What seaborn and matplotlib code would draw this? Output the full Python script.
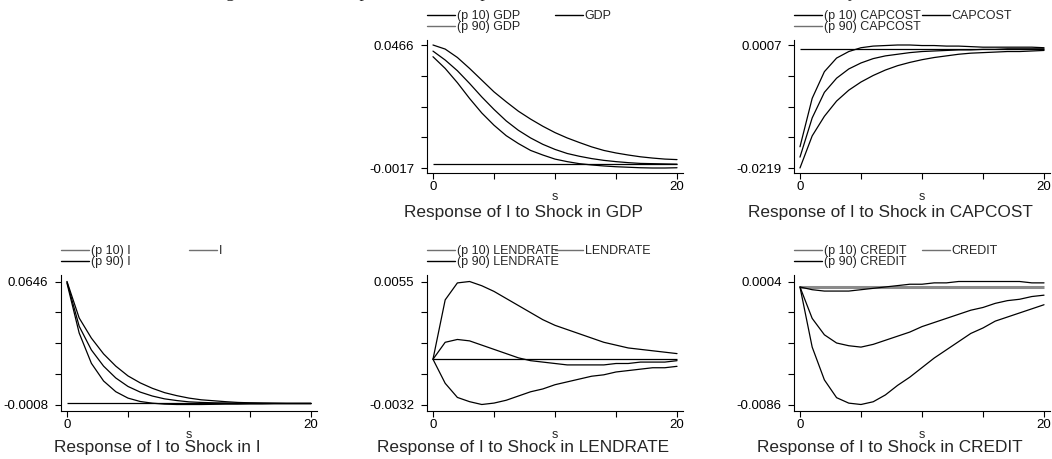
import numpy as np
import pandas as pd
import matplotlib
matplotlib.use("Agg")
import matplotlib.pyplot as plt
import seaborn as sns
from matplotlib.lines import Line2D

# ---------------- data ----------------
steps = list(range(21))

gdp_p10 = [0.0420, 0.0374, 0.0318, 0.0256, 0.0199, 0.0151, 0.0110, 0.0079, 0.0052, 0.0034, 0.0018,
           0.0008, 0.0000, -0.0005, -0.0009, -0.0012, -0.0014, -0.0016, -0.0017, -0.0017, -0.0016]
gdp_med = [0.0442, 0.0407, 0.0365, 0.0315, 0.0262, 0.0213, 0.0168, 0.0131, 0.0101, 0.0076, 0.0056,
           0.0040, 0.0029, 0.0020, 0.0013, 0.0008, 0.0004, 0.0001, 0.0000, -0.0001, -0.0002]
gdp_p90 = [0.0466, 0.0450, 0.0417, 0.0374, 0.0328, 0.0282, 0.0243, 0.0206, 0.0175, 0.0147, 0.0122,
           0.0101, 0.0083, 0.0066, 0.0052, 0.0042, 0.0034, 0.0027, 0.0022, 0.0018, 0.0016]

capcost_p10 = [-0.0219, -0.0160, -0.0124, -0.0096, -0.0076, -0.0061, -0.0049, -0.0039, -0.0031, -0.0025, -0.0020,
               -0.0016, -0.0013, -0.0010, -0.0008, -0.0007, -0.0006, -0.0005, -0.0005, -0.0004, -0.0003]
capcost_med = [-0.0199, -0.0127, -0.0080, -0.0054, -0.0037, -0.0026, -0.0018, -0.0013, -0.0010, -0.0007, -0.0005,
               -0.0004, -0.0003, -0.0002, -0.0002, -0.0001, -0.0001, 0.0000, 0.0000, 0.0000, 0.0000]
capcost_p90 = [-0.0180, -0.0091, -0.0042, -0.0017, -0.0005, 0.0002, 0.0005, 0.0006, 0.0007, 0.0007, 0.0006,
               0.0006, 0.0005, 0.0005, 0.0004, 0.0003, 0.0003, 0.0003, 0.0003, 0.0003, 0.0002]

i_p10 = [0.0637, 0.0372, 0.0211, 0.0117, 0.0060, 0.0026, 0.0008, -0.0001, -0.0006, -0.0008, -0.0008,
         -0.0008, -0.0007, -0.0006, -0.0006, -0.0005, -0.0005, -0.0004, -0.0004, -0.0004, -0.0004]
i_med = [0.0644, 0.0408, 0.0282, 0.0196, 0.0133, 0.0088, 0.0058, 0.0037, 0.0022, 0.0013, 0.0006,
         0.0003, 0.0001, 0.0000, -0.0001, -0.0001, -0.0002, -0.0002, -0.0002, -0.0002, -0.0002]
i_p90 = [0.0646, 0.0452, 0.0345, 0.0261, 0.0196, 0.0144, 0.0107, 0.0078, 0.0055, 0.0039, 0.0026,
         0.0017, 0.0012, 0.0007, 0.0003, 0.0001, 0.0000, -0.0001, -0.0002, -0.0002, -0.0002]

lendrate_p10 = [0.0000, -0.0017, -0.0027, -0.0030, -0.0032, -0.0031, -0.0029, -0.0026, -0.0023, -0.0021, -0.0018,
                -0.0016, -0.0014, -0.0012, -0.0011, -0.0009, -0.0008, -0.0007, -0.0006, -0.0006, -0.0005]
lendrate_med = [0.0000, 0.0012, 0.0014, 0.0013, 0.0010, 0.0007, 0.0004, 0.0001, -0.0001, -0.0002, -0.0003,
                -0.0004, -0.0004, -0.0004, -0.0004, -0.0003, -0.0003, -0.0002, -0.0002, -0.0002, -0.0001]
lendrate_p90 = [0.0000, 0.0042, 0.0054, 0.0055, 0.0052, 0.0048, 0.0043, 0.0038, 0.0033, 0.0028, 0.0024,
                0.0021, 0.0018, 0.0015, 0.0012, 0.0010, 0.0008, 0.0007, 0.0006, 0.0005, 0.0004]

credit_p10 = [0.0000, -0.0044, -0.0068, -0.0081, -0.0085, -0.0086, -0.0084, -0.0079, -0.0072, -0.0066, -0.0059,
              -0.0052, -0.0046, -0.0040, -0.0034, -0.0030, -0.0025, -0.0022, -0.0019, -0.0016, -0.0013]
credit_med = [0.0000, -0.0023, -0.0035, -0.0041, -0.0043, -0.0044, -0.0042, -0.0039, -0.0036, -0.0033, -0.0029,
              -0.0026, -0.0023, -0.0020, -0.0017, -0.0015, -0.0012, -0.0010, -0.0009, -0.0007, -0.0006]
credit_p90 = [0.0000, -0.0002, -0.0003, -0.0003, -0.0003, -0.0002, -0.0001, 0.0000, 0.0001, 0.0002, 0.0002,
              0.0003, 0.0003, 0.0004, 0.0004, 0.0004, 0.0004, 0.0004, 0.0004, 0.0003, 0.0003]

# y-axis label values (min, max) per panel
gdp_ylabels = [-0.0017, 0.0466]
capcost_ylabels = [-0.0219, 0.0007]
i_ylabels = [-0.0008, 0.0646]
lendrate_ylabels = [-0.0032, 0.0055]
credit_ylabels = [-0.0086, 0.0004]
x_ticks = [0, 5, 10, 15, 20]
x_ticklabels = ["0", "", "", "", "20"]

shock_names = ["GDP", "CAPCOST", "I", "LENDRATE", "CREDIT"]
title_text = "Figure 3: Median impulse and the response functions of investment to shocks in economy"

# ---------------- style ----------------
sns.set_theme(style="ticks")
plt.rcParams["font.family"] = ["Liberation Sans", "DejaVu Sans"]

W, H = 1052, 459
fig = plt.figure(figsize=(W / 100, H / 100), dpi=100)
fig.patch.set_facecolor("white")


def px_axes(left, top, right, bottom):
    return fig.add_axes([left / W, 1 - bottom / H, (right - left) / W, (bottom - top) / H])


panels = [
    ("GDP", gdp_p10, gdp_med, gdp_p90, gdp_ylabels, (427, 40, 683, 173), "top"),
    ("CAPCOST", capcost_p10, capcost_med, capcost_p90, capcost_ylabels, (794, 40, 1050, 173), "top"),
    ("I", i_p10, i_med, i_p90, i_ylabels, (61, 275, 317, 411), "bottom"),
    ("LENDRATE", lendrate_p10, lendrate_med, lendrate_p90, lendrate_ylabels, (427, 275, 683, 411), "bottom"),
    ("CREDIT", credit_p10, credit_med, credit_p90, credit_ylabels, (794, 275, 1050, 411), "bottom"),
]

GRAY = "#707070"

for name, p10, med, p90, ylab, box, row in panels:
    ax = px_axes(*box)
    ax.set_facecolor("white")
    df = pd.DataFrame({
        "s": steps * 3,
        "value": p10 + med + p90,
        "series": [f"(p 10) {name}"] * 21 + [name] * 21 + [f"(p 90) {name}"] * 21,
    })
    # zero reference line
    if name == "CREDIT":
        ax.hlines(0, steps[0], steps[-1], color="#8a8a8a", lw=2.2, zorder=1)
    else:
        ax.hlines(0, steps[0], steps[-1], color="black", lw=0.9, zorder=1)
    sns.lineplot(data=df, x="s", y="value", units="series", estimator=None,
                 color="black", lw=0.9, ax=ax, legend=False, zorder=2)

    # axis limits with Stata-like margins
    left, top, right, bottom = box
    tick_span_px = (bottom - top) - (10 if row == "top" else 13)
    ymin, ymax = ylab
    m = (5 if row == "top" else 6.5) / tick_span_px * (ymax - ymin)
    ax.set_ylim(ymin - m, ymax + m)
    ax.set_xlim(-0.49, 20.49)

    yt = np.linspace(ymin, ymax, 5)
    ax.set_yticks(yt)
    ax.set_yticklabels([f"{ymin:.4f}", "", "", "", f"{ymax:.4f}"])
    ax.set_xticks(x_ticks)
    ax.set_xticklabels(x_ticklabels)
    ax.tick_params(axis="y", length=4.5, width=0.8, pad=4.5, labelsize=9.5, colors="black")
    ax.tick_params(axis="x", length=4.5, width=0.8, pad=1, labelsize=9.5, colors="black")
    for sp in ["top", "right"]:
        ax.spines[sp].set_visible(False)
    for sp in ["left", "bottom"]:
        ax.spines[sp].set_linewidth(0.8)
        ax.spines[sp].set_color("black")
    ax.set_xlabel("s", fontsize=9, labelpad=-1.5)
    ax.set_ylabel("")
    off = 39.5 if row == "top" else 36.5
    ax.text(0.375, -off / (bottom - top), f"Response of I to Shock in {name}",
            transform=ax.transAxes, ha="center", va="center", fontsize=12.4)

    # legends
    if row == "top":
        c10, cm, c90 = "black", "black", GRAY
    else:
        c10, cm, c90 = GRAY, GRAY, "black"
    h1 = [Line2D([], [], color=c10, lw=1.0), Line2D([], [], color=c90, lw=1.0)]
    l1 = [f"(p 10) {name}", f"(p 90) {name}"]
    h2 = [Line2D([], [], color=cm, lw=1.0)]
    l2 = [name]
    leg_top = top - 30
    kw = dict(loc="upper left", frameon=False, fontsize=9, handlelength=2.25,
              handletextpad=0.12, labelspacing=-0.05, borderpad=0, borderaxespad=0,
              bbox_transform=fig.transFigure)
    leg1 = ax.legend(h1, l1, bbox_to_anchor=(left / W, 1 - leg_top / H), **kw)
    ax.add_artist(leg1)
    ax.legend(h2, l2, bbox_to_anchor=((left + 128) / W, 1 - leg_top / H), **kw)

# clipped main title (only descenders visible)
fig.text(211 / W, 1 + 3.0 / H, title_text, ha="left", va="baseline",
         fontsize=13, family=["Liberation Serif", "DejaVu Serif"])

fig.savefig("out.png", dpi=100, facecolor="white")
